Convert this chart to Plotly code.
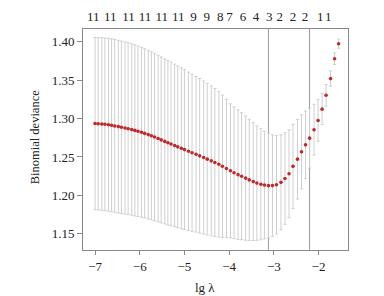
import plotly.graph_objects as go

# log(lambda) positions of the CV points
log_lambda = [
    -7.00, -6.93, -6.85, -6.78, -6.70, -6.63, -6.56, -6.48, -6.41, -6.33,
    -6.26, -6.18, -6.11, -6.04, -5.96, -5.89, -5.81, -5.74, -5.67, -5.59,
    -5.52, -5.44, -5.37, -5.30, -5.22, -5.15, -5.07, -5.00,
    -4.91, -4.83, -4.74, -4.66, -4.57, -4.49, -4.40, -4.32, -4.23, -4.15,
    -4.06, -3.97, -3.89, -3.80, -3.72, -3.63, -3.55, -3.46, -3.38, -3.29,
    -3.21, -3.12,
    -3.03, -2.94, -2.84, -2.75, -2.66, -2.57, -2.47, -2.38, -2.29, -2.20,
    -2.10, -2.01, -1.92, -1.83, -1.73, -1.64, -1.55,
]

# mean binomial deviance
cv_mean = [
    1.2935, 1.2932, 1.2929, 1.2925, 1.2919, 1.2912, 1.2904, 1.2895, 1.2886, 1.2877,
    1.2868, 1.2858, 1.2846, 1.2834, 1.2821, 1.2807, 1.2791, 1.2776, 1.2760, 1.2741,
    1.2722, 1.2703, 1.2685, 1.2668, 1.2650, 1.2632, 1.2613, 1.2596,
    1.2575, 1.2556, 1.2536, 1.2515, 1.2494, 1.2472, 1.2450, 1.2428, 1.2405, 1.2380,
    1.2350, 1.2320, 1.2295, 1.2270, 1.2250, 1.2225, 1.2202, 1.2180, 1.2160, 1.2145,
    1.2135, 1.2127,
    1.2128, 1.2138, 1.2170, 1.2220, 1.2282, 1.2378, 1.2472, 1.2567, 1.2658, 1.2745,
    1.2855, 1.2975, 1.3122, 1.3303, 1.3520, 1.3778, 1.3974,
]

# standard error (half-height of the error bars)
cv_se = [
    0.1120, 0.1121, 0.1122, 0.1123, 0.1124, 0.1124, 0.1124, 0.1123, 0.1122, 0.1120,
    0.1118, 0.1115, 0.1112, 0.1109, 0.1105, 0.1101, 0.1097, 0.1093, 0.1089, 0.1084,
    0.1079, 0.1074, 0.1069, 0.1064, 0.1058, 0.1052, 0.1046, 0.1040,
    0.1030, 0.1022, 0.1013, 0.1004, 0.0995, 0.0985, 0.0975, 0.0962, 0.0945, 0.0925,
    0.0900, 0.0872, 0.0857, 0.0842, 0.0826, 0.0808, 0.0788, 0.0766, 0.0744, 0.0722,
    0.0700, 0.0680,
    0.0660, 0.0640, 0.0618, 0.0596, 0.0572, 0.0548, 0.0518, 0.0482, 0.0440, 0.0390,
    0.0330, 0.0270, 0.0200, 0.0140, 0.0100, 0.0075, 0.0060,
]

# number of non-zero coefficients shown along the top
top_pos = [-7.04, -6.66, -6.25, -5.88, -5.51, -5.14, -4.80, -4.50, -4.20,
           -3.99, -3.69, -3.40, -3.10, -2.87, -2.57, -2.30, -1.96, -1.78]
top_labels = ["11", "11", "11", "11", "11", "11", "9", "9", "8",
              "7", "6", "4", "3", "2", "2", "2", "1", "1"]

lambda_min = -3.12
lambda_1se = -2.20

x_ticks = [-7, -6, -5, -4, -3, -2]
x_tick_text = ["\u22127", "\u22126", "\u22125", "\u22124", "\u22123", "\u22122"]
y_ticks = [1.15, 1.20, 1.25, 1.30, 1.35, 1.40]
y_tick_text = ["1.15", "1.20", "1.25", "1.30", "1.35", "1.40"]

x_range = [-7.27, -1.34]
y_range = [1.129, 1.4165]

FONT = "Liberation Serif"
AX = "#888888"
TXT = "#222222"

fig = go.Figure()

fig.add_trace(go.Scatter(
    x=log_lambda, y=cv_mean, mode="markers",
    marker=dict(color="#c0282a", size=3.6, line=dict(width=0)),
    error_y=dict(type="data", array=cv_se, visible=True,
                 color="#cfcfcf", thickness=1, width=1.6),
    showlegend=False, hoverinfo="skip",
))

# invisible trace on the top axis to carry the non-zero counts
fig.add_trace(go.Scatter(x=[x_range[0]], y=[y_range[0]], xaxis="x2",
                         mode="markers", marker=dict(opacity=0),
                         showlegend=False, hoverinfo="skip"))

for v in (lambda_min, lambda_1se):
    fig.add_shape(type="line", xref="x", yref="paper", x0=v, x1=v, y0=0, y1=1,
                  line=dict(color="#9a9a9a", width=1), layer="below")

# the page body has an 8px margin: size the figure so it fits the window
fig.update_layout(
    width=376, height=288,
    margin=dict(l=75, r=36, t=21, b=46),
    paper_bgcolor="white", plot_bgcolor="white",
    font=dict(family=FONT, size=13, color=TXT),
    xaxis=dict(range=x_range, tickvals=x_ticks, ticktext=x_tick_text,
               showgrid=False, zeroline=False, showline=True, linecolor=AX,
               linewidth=1, mirror=True, ticks="outside", ticklen=4,
               tickcolor=AX, automargin=False,
               tickfont=dict(family=FONT, size=13, color=TXT)),
    xaxis2=dict(range=x_range, overlaying="x", side="top", tickvals=top_pos,
                ticktext=top_labels, showgrid=False, zeroline=False,
                showline=False, ticks="", ticklabelstandoff=4, tickangle=0,
                automargin=False,
                tickfont=dict(family=FONT, size=13, color=TXT)),
    yaxis=dict(range=y_range, tickvals=y_ticks, ticktext=y_tick_text,
               showgrid=False, zeroline=False, showline=True, linecolor=AX,
               linewidth=1, mirror=True, ticks="outside", ticklen=5,
               tickcolor=AX, automargin=False,
               tickfont=dict(family=FONT, size=13, color=TXT)),
    annotations=[
        dict(text="lg \u03bb", xref="paper", yref="paper", x=0.46, y=-0.125,
             xanchor="center", yanchor="top", showarrow=False,
             font=dict(family=FONT, size=13, color=TXT)),
        dict(text="Binomial deviance", xref="paper", yref="paper", x=-0.181,
             y=0.51, xanchor="center", yanchor="middle", textangle=-90,
             showarrow=False, font=dict(family=FONT, size=12.5, color=TXT)),
    ],
)

fig.write_html("out.html")
